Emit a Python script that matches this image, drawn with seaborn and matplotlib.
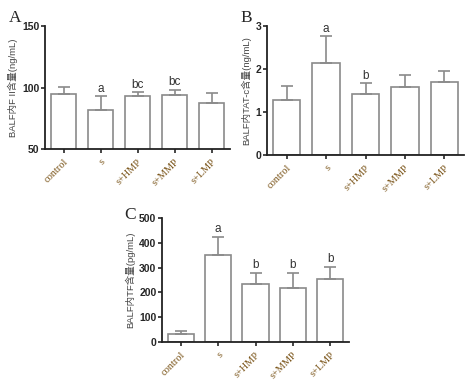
import matplotlib
matplotlib.use("Agg")
import matplotlib.pyplot as plt
import seaborn as sns
import pandas as pd
import numpy as np

groups = ["control", "s", "s+HMP", "s+MMP", "s+LMP"]

# Panel A: BALF F II (ng/mL)
f2_mean = [94.6, 81.8, 93.0, 94.0, 87.2]
f2_sd = [5.8, 10.9, 3.0, 3.8, 8.2]
f2_sig = ["", "a", "bc", "bc", ""]

# Panel B: BALF TAT-c (ng/mL)
tat_mean = [1.28, 2.13, 1.41, 1.57, 1.69]
tat_sd = [0.32, 0.64, 0.26, 0.28, 0.27]
tat_sig = ["", "a", "b", "", ""]

# Panel C: BALF TF (pg/mL)
tf_mean = [34, 351, 232, 216, 255]
tf_sd = [11, 73, 45, 61, 49]
tf_sig = ["", "a", "b", "b", "b"]

sns.set_style("ticks")
plt.rcParams["font.family"] = ["Liberation Sans", "Noto Sans CJK SC", "DejaVu Sans"]

fig = plt.figure(figsize=(4.68, 3.86), dpi=100)

W, H = 468, 386


def px_axes(l, t, r, b):
    return fig.add_axes((l / W, 1 - b / H, (r - l) / W, (b - t) / H))


def draw_panel(ax, mean, sd, sig, ylim, yticks, ylabel, sig_pad):
    df = pd.DataFrame({"group": groups, "value": mean})
    sns.barplot(data=df, x="group", y="value", ax=ax, color="white",
                edgecolor="#8a8a8a", linewidth=1.2, width=0.7, errorbar=None)
    x = np.arange(len(groups))
    ax.errorbar(x, mean, yerr=[np.zeros(len(sd)), sd], fmt="none",
                ecolor="#8a8a8a", elinewidth=1.2, capsize=4, capthick=1.2)
    for xi, m, s, lab in zip(x, mean, sd, sig):
        if lab:
            ax.text(xi, m + s + sig_pad, lab, ha="center", va="bottom",
                    fontsize=8.5, color="#333333")
    ax.set_ylim(*ylim)
    ax.set_yticks(yticks)
    ax.set_xlim(-0.5, len(groups) - 0.5)
    ax.set_xlabel("")
    ax.set_ylabel(ylabel, fontsize=6.8, color="#444444", labelpad=3)
    for sp in ["top", "right"]:
        ax.spines[sp].set_visible(False)
    for sp in ["left", "bottom"]:
        ax.spines[sp].set_linewidth(1.3)
        ax.spines[sp].set_color("#222222")
    ax.tick_params(axis="y", labelsize=7.5, width=1.2, length=3, pad=1)
    ax.tick_params(axis="x", width=1.2, length=3, pad=3)
    for t in ax.get_yticklabels():
        t.set_fontweight("bold")
    ax.set_xticks(x)
    ax.set_xticklabels(groups, rotation=45, ha="right", rotation_mode="anchor",
                       fontsize=7.5, family="Liberation Serif", color="#7a5418")


ax_a = px_axes(45, 26, 230, 149)
draw_panel(ax_a, f2_mean, f2_sd, f2_sig, (50, 150), [50, 100, 150],
           "BALF内F II含量(ng/mL)", 1.5)

ax_b = px_axes(267, 26, 464, 155)
draw_panel(ax_b, tat_mean, tat_sd, tat_sig, (0, 3), [0, 1, 2, 3],
           "BALF内TAT-c含量(ng/mL)", 0.03)

ax_c = px_axes(162, 218, 349, 342)
draw_panel(ax_c, tf_mean, tf_sd, tf_sig, (0, 500), [0, 100, 200, 300, 400, 500],
           "BALF内TF含量(pg/mL)", 8)

fig.text(9 / W, 1 - 18 / H, "A", family="Liberation Serif", fontsize=12.5, va="center")
fig.text(240 / W, 1 - 18 / H, "B", family="Liberation Serif", fontsize=12.5, va="center")
fig.text(124 / W, 1 - 215 / H, "C", family="Liberation Serif", fontsize=12.5, va="center")

fig.savefig("out.png", dpi=100)
